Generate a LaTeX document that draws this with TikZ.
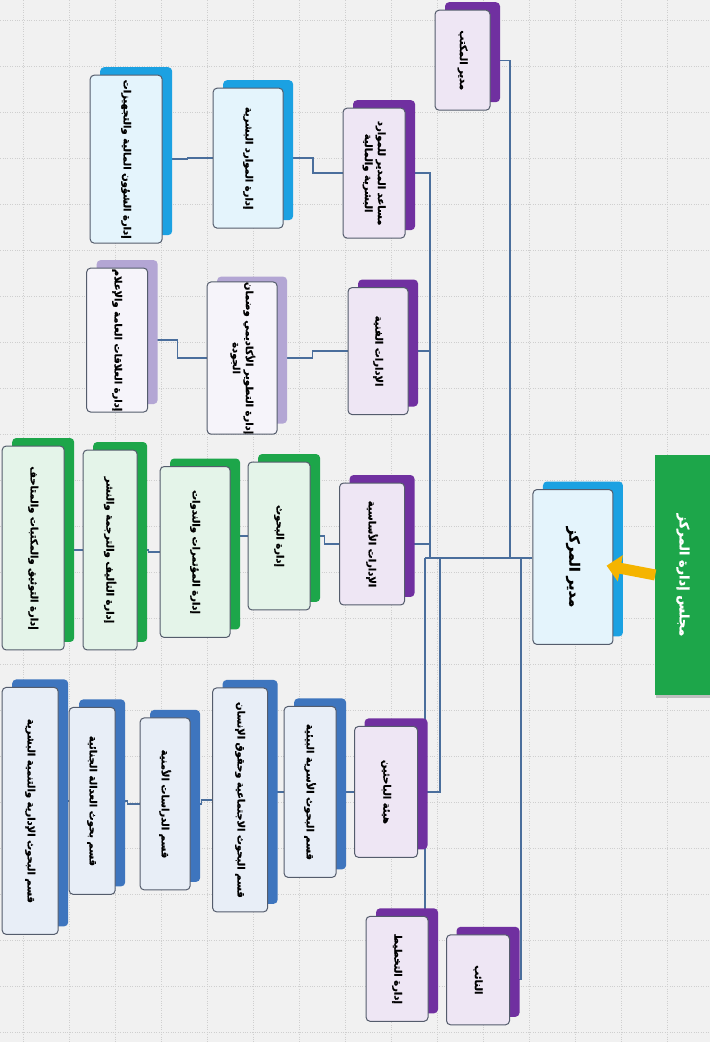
\documentclass[tikz,border=0pt]{standalone}
\usepackage{fontspec}
\usepackage{tikz}
\usetikzlibrary{positioning, calc, arrows.meta}
\TeXXeTstate=1
\newfontfamily\arabicfont[Script=Arabic, BoldFont={DejaVu Sans Bold}, BoldFeatures={FakeBold=1.2}]{DejaVu Sans}

\definecolor{purp}{HTML}{7030A0}
\definecolor{cyanb}{HTML}{1BA1E2}
\definecolor{lav}{HTML}{B3A6D4}
\definecolor{grn}{HTML}{1DA64A}
\definecolor{steel}{HTML}{3E75BE}
\definecolor{linkc}{HTML}{4A6E9C}
\definecolor{frame}{HTML}{545C6C}
\definecolor{paperc}{HTML}{F1F1F1}
\definecolor{gridc}{HTML}{CFCFCF}
\definecolor{arrowc}{HTML}{F5B400}

\pgfdeclarelayer{paper}
\pgfdeclarelayer{wires}
\pgfsetlayers{paper,wires,main}

% rotated arabic text, one or two lines
\newcommand{\artxt}[1]{\rotatebox{-90}{\arabicfont\bfseries\beginR #1\endR}}
\newcommand{\artxttwo}[2]{\rotatebox{-90}{\arabicfont\bfseries\begin{tabular}{@{}c@{}}\beginR #1\endR\\ \beginR #2\endR\end{tabular}}}

% name, centre, width, height, colour, text
\newcommand{\deptbox}[6]{%
  \node[backbox, fill=#5, minimum width=#3pt, minimum height=#4pt] (#1-b) at ($(#2)+(10,-8)$) {};
  \node[frontbox, fill=#5!12, minimum width=#3pt, minimum height=#4pt] (#1) at (#2) {#6};
}

\begin{document}
\begin{tikzpicture}[x=1pt, y=-1pt,
  backbox/.style={rounded corners=4pt, inner sep=0pt},
  frontbox/.style={rounded corners=4pt, draw=frame, line width=1pt, inner sep=0pt, text=black, font=\fontsize{10}{13}\selectfont},
  link/.style={draw=linkc, line width=1.3pt},
  elbow/.style={to path={-| ($(\tikztostart)!.5!(\tikztotarget)$) |- (\tikztotarget)}}]

\begin{pgfonlayer}{paper}
  \fill[paperc] (0,0) rectangle (710,1042);
  \foreach \gx in {23,69,...,710} \draw[gridc, dotted] (\gx,0) -- (\gx,1042);
  \foreach \gy in {20,66,...,1042} \draw[gridc, dotted] (0,\gy) -- (710,\gy);
\end{pgfonlayer}
\useasboundingbox (0,0) rectangle (710,1042);

% top of the chart
\fill[black!25] (656,458) rectangle (710,698);
\node[fill=grn, inner sep=0pt, minimum width=55pt, minimum height=240pt, text=white, font=\fontsize{13}{15}\selectfont] (board) at (683,575) {\artxt{مجلس إدارة المركز}};
\node[backbox, fill=cyanb, minimum width=80pt, minimum height=155pt] (dir-b) at (583,559) {};
\node[frontbox, fill=cyanb!12, minimum width=80pt, minimum height=155pt, font=\fontsize{14}{16}\selectfont] (dir) at (573,567) {\artxt{مدير المركز}};

% first level
\deptbox{office}{462.5,60}{55}{100}{purp}{\artxt{مدير المكتب}}
\deptbox{asst}{374,173}{62}{130}{purp}{\artxttwo{مساعد المدير للموارد}{البشرية والمالية}}
\deptbox{tech}{378,351}{60}{127}{purp}{\artxt{الإدارات الفنية}}
\deptbox{basic}{372,544}{65}{122}{purp}{\artxt{الإدارات الأساسية}}
\deptbox{staff}{386,792}{63}{131}{purp}{\artxt{هيئة الباحثين}}
\deptbox{plan}{397,969}{62}{105}{purp}{\artxt{إدارة التخطيط}}
\deptbox{dep}{478,980}{63}{90}{purp}{\artxt{النائب}}

% second level
\deptbox{hr}{248,158}{70}{140}{cyanb}{\artxt{إدارة الموارد البشرية}}
\deptbox{fin}{126,159}{72}{168}{cyanb}{\artxt{إدارة الشؤون المالية والتجهيزات}}
\deptbox{dev}{242,358}{70}{147}{lav}{\artxttwo{إدارة التطوير الأكاديمي وضمان}{الجودة}}
\deptbox{pr}{117,340}{61}{144}{lav}{\artxt{إدارة العلاقات العامة والإعلام}}
\deptbox{res}{279,536}{62}{148}{grn}{\artxt{إدارة البحوث}}
\deptbox{conf}{195,552}{70}{171}{grn}{\artxt{إدارة المؤتمرات والندوات}}
\deptbox{pub}{110,550}{54}{200}{grn}{\artxt{إدارة التأليف والترجمة والنشر}}
\deptbox{doc}{33,548}{62}{204}{grn}{\artxt{إدارة التوثيق والمكتبات والمتاحف}}
\deptbox{fam}{310,792}{52}{171}{steel}{\artxt{قسم البحوث الأسرية البيئية}}
\deptbox{soc}{240,800}{55}{224}{steel}{\artxt{قسم البحوث الاجتماعية وحقوق الإنسان}}
\deptbox{sec}{165,804}{50}{172}{steel}{\artxt{قسم الدراسات الأمنية}}
\deptbox{just}{92,801}{46}{187}{steel}{\artxt{قسم بحوث العدالة الجنائية}}
\deptbox{adm}{30,811}{56}{247}{steel}{\artxt{قسم البحوث الإدارية والتنمية البشرية}}

\coordinate (hubA) at (510,558);
\coordinate (hubB) at (521,558);
\coordinate (hubC) at (430,558);
\coordinate (hubD) at (440,558);
\coordinate (hubE) at (425,558);

\begin{pgfonlayer}{wires}
  \draw[link] ([yshift=9pt]dir.west) -- (hubE);
  \draw[link] (hubA) |- (office.east);
  \draw[link] (hubB) |- (dep.east);
  \draw[link] (hubC) |- (asst.east);
  \draw[link] (hubC |- tech.east) -- (tech.east);
  \draw[link] (hubC |- basic.east) -- (basic.east);
  \draw[link] (hubD) |- (staff.east);
  \draw[link] (hubE) |- (plan.east);
  %chains to the left
  \draw[link] (asst.west) to[elbow] (hr.east);
  \draw[link] (hr.west) to[elbow] (fin.east);
  \draw[link] (tech.west) to[elbow] (dev.east);
  \draw[link] (dev.west) to[elbow] (pr.east);
  \draw[link] (basic.west) to[elbow] (res.east);
  \draw[link] (res.west) to[elbow] (conf.east);
  \draw[link] (conf.west) to[elbow] (pub.east);
  \draw[link] (pub.west) to[elbow] (doc.east);
  \draw[link] (staff.west) to[elbow] (fam.east);
  \draw[link] (fam.west) to[elbow] (soc.east);
  \draw[link] (soc.west) to[elbow] (sec.east);
  \draw[link] (sec.west) to[elbow] (just.east);
  \draw[link] (just.west) to[elbow] (adm.east);
\end{pgfonlayer}

\draw[arrowc, line width=11pt, -{Triangle[length=14pt, width=26pt]}, shorten >=-7pt] (board.west) -- (dir.east);
\end{tikzpicture}
\end{document}
